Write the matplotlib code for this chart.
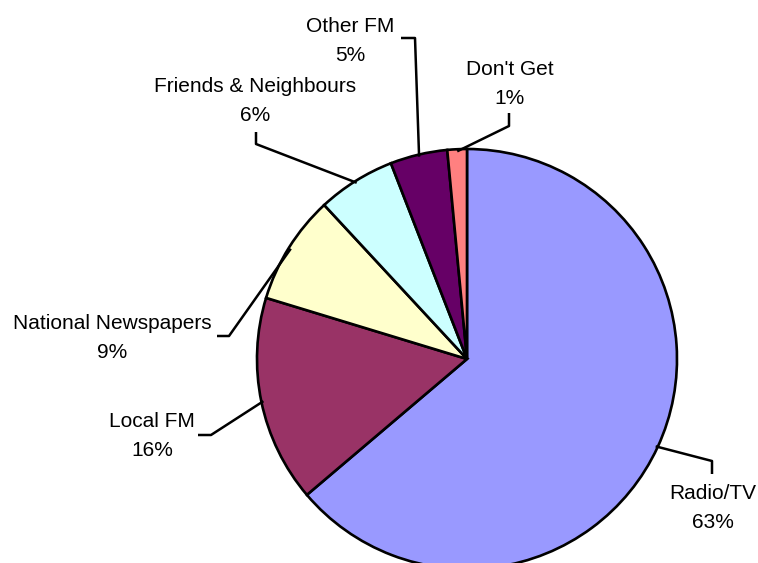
import numpy as np
import matplotlib
matplotlib.use("Agg")
from matplotlib import pyplot as plt

# data
names = ["Radio/TV", "Local FM", "National Newspapers", "Friends & Neighbours", "Other FM", "Don't Get"]
shares = [63.8, 15.9, 8.4, 6.0, 4.4, 1.5]
pct_text = ["63%", "16%", "9%", "6%", "5%", "1%"]
colors = ["#9999FF", "#993366", "#FFFFCC", "#CCFFFF", "#660066", "#FF8080"]

W, H = 758, 563
# label layout in image pixels (x centre, first baseline) and leader elbows
label_pos = [(713, 499), (152, 427), (112, 329), (255, 92), (350, 32), (510, 75)]
elbows = [
    [(712, 461), (712, 474)],
    [(211, 435), (198, 435)],
    [(229, 336), (217, 336)],
    [(256, 144), (256, 132)],
    [(415, 38), (401, 38)],
    [(509, 126), (509, 113)],
]

plt.rcParams['font.family'] = ['Liberation Sans', 'DejaVu Sans']

fig = plt.figure(figsize=(W / 100, H / 100), dpi=100)
ax = fig.add_axes([0, 0, 1, 1])
ax.set_xlim(0, W)
ax.set_ylim(0, H)
ax.set_aspect('equal')
ax.axis('off')

cx, cy, r = 467, H - 359, 210
wedges, _ = ax.pie(shares, colors=colors, startangle=90, counterclock=False,
                   center=(cx, cy), radius=r,
                   wedgeprops=dict(edgecolor='black', linewidth=1.9))
ax.set_xlim(0, W)
ax.set_ylim(0, H)

for i, w in enumerate(wedges):
    mid = np.deg2rad((w.theta1 + w.theta2) / 2)
    px = cx + 0.99 * r * np.cos(mid)
    py = cy + 0.99 * r * np.sin(mid)
    xs = [px] + [p[0] for p in elbows[i]]
    ys = [py] + [H - p[1] for p in elbows[i]]
    ax.plot(xs, ys, color='black', lw=1.8, solid_capstyle='butt')
    lx, ly = label_pos[i]
    ax.text(lx, H - ly, names[i], ha='center', va='baseline', fontsize=15)
    ax.text(lx, H - ly - 29, pct_text[i], ha='center', va='baseline', fontsize=15)

fig.savefig("out.png", dpi=100)
